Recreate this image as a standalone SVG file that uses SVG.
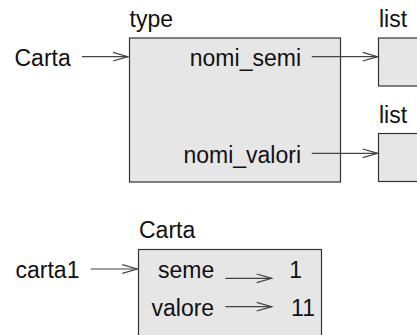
<svg xmlns="http://www.w3.org/2000/svg" width="417" height="335" viewBox="0 0 417 335">
<defs>
<style>
.box{fill:#e6e6e6;stroke:#333;stroke-width:1.2}
.t{font-family:"Liberation Sans",Arial,sans-serif;font-size:23px;fill:#111}
.e{text-anchor:end}
.a{stroke:#444;stroke-width:1.2;fill:none;marker-end:url(#ah)}
</style>
<marker id="ah" markerUnits="userSpaceOnUse" markerWidth="20" markerHeight="12" viewBox="-16 -6 20 12" refX="0" refY="0" orient="auto" overflow="visible">
<path d="M-15,-4.3 L0,0 L-15,4.3" fill="none" stroke="#444" stroke-width="1.2"/>
</marker>
</defs>
<rect width="417" height="335" fill="#fff"/>
<g id="type-node">
<rect class="box" x="129.5" y="38" width="211" height="144"/>
<text class="t" x="129.5" y="27">type</text>
<text class="t e" x="301" y="66">nomi_semi</text>
<text class="t e" x="301" y="163">nomi_valori</text>
</g>
<g id="var-Carta"><text class="t" x="14.5" y="66">Carta</text></g>
<g id="list1">
<rect class="box" x="378.5" y="38" width="60" height="48"/>
<text class="t" x="379" y="27">list</text>
</g>
<g id="list2">
<rect class="box" x="378.5" y="133.5" width="60" height="48"/>
<text class="t" x="379" y="123">list</text>
</g>
<g id="carta-obj">
<rect class="box" x="138.5" y="249.5" width="183" height="100"/>
<text class="t" x="139" y="238">Carta</text>
<text class="t" x="158" y="278">seme</text>
<text class="t" x="151.5" y="316">valore</text>
<text class="t e" x="302" y="278">1</text>
<text class="t e" x="315" y="316">11</text>
</g>
<g id="var-carta1"><text class="t" x="15.5" y="278">carta1</text></g>
<g id="connectors">
<line class="a" x1="82" y1="56.7" x2="128" y2="56.7"/>
<line class="a" x1="311.7" y1="56.7" x2="377.7" y2="56.7"/>
<line class="a" x1="311.7" y1="153.3" x2="377.7" y2="153.3"/>
<line class="a" x1="90.7" y1="269" x2="137.3" y2="269"/>
<line class="a" x1="225.3" y1="278.3" x2="271.7" y2="278.3"/>
<line class="a" x1="225.3" y1="306.7" x2="271.7" y2="306.7"/>
</g>
</svg>
